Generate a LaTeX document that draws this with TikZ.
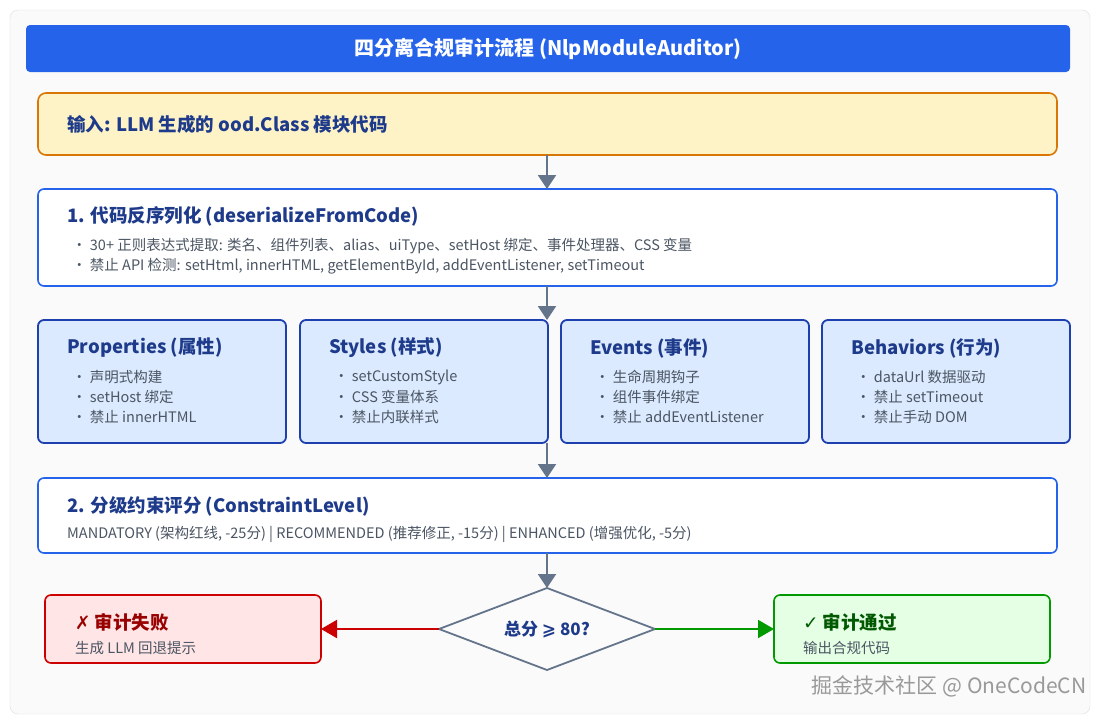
\documentclass[tikz,border=0pt]{standalone}
\usepackage{fontspec}
\setmainfont{Noto Sans CJK SC}
\newfontfamily\sym{DejaVu Sans}
\usetikzlibrary{shapes.geometric,arrows.meta}
\definecolor{tblue}{HTML}{2563EB}
\definecolor{dblue}{HTML}{1E3A8A}
\definecolor{bblue}{HTML}{1E40AF}
\definecolor{lblue}{HTML}{DBEAFE}
\definecolor{gtxt}{HTML}{4B5563}
\definecolor{agray}{HTML}{64748B}
\definecolor{ofill}{HTML}{FEF3C7}
\definecolor{obord}{HTML}{D97706}
\begin{document}
\begin{tikzpicture}[x=1pt,y=-1pt,
  box/.style={draw=tblue,line width=1.6pt,rounded corners=6pt,fill=white},
  sub/.style={draw=bblue,line width=1.8pt,rounded corners=6pt,fill=lblue},
  ttl/.style={anchor=west,font=\bfseries\fontsize{18.5}{20}\selectfont,text=dblue,inner sep=0},
  bul/.style={anchor=west,font=\fontsize{14.5}{16}\selectfont,text=gtxt,inner sep=0,align=left},
  arr/.style={-{Triangle[length=14pt,width=18pt]},agray,line width=2pt}]
\useasboundingbox (0,0) rectangle (1100,720);
\fill[white] (0,0) rectangle (1100,720);
\draw[draw=gray!25,fill=gray!4,rounded corners=8pt] (10,10) rectangle (1090,714);
\node[fill=tblue,rounded corners=4pt,minimum width=1044pt,minimum height=47pt,text=white,font=\bfseries\fontsize{20}{22}\selectfont] (title) at (548,48.5) {四分离合规审计流程 (NlpModuleAuditor)};
\draw[draw=obord,fill=ofill,line width=1.6pt,rounded corners=8pt] (38,93) rectangle (1057,155);
\node[ttl] (in) at (67,124) {输入: LLM 生成的 ood.Class 模块代码};
\coordinate (inb) at (547,155);
\draw[box] (38,189) rectangle (1057,286);
\coordinate (b1t) at (547,189); \coordinate (b1b) at (547,286);
\node[ttl] (t1) at (67,216) {1. 代码反序列化 (deserializeFromCode)};
\node[bul] (l1) at (72,246) {· 30+ 正则表达式提取: 类名、组件列表、alias、uiType、setHost 绑定、事件处理器、CSS 变量};
\node[bul] (l2) at (72,266) {· 禁止 API 检测: setHtml, innerHTML, getElementById, addEventListener, setTimeout};
\foreach \x/\n/\a/\b/\c in {38/Properties (属性)/声明式构建/setHost 绑定/禁止 innerHTML,
  300/Styles (样式)/setCustomStyle/CSS 变量体系/禁止内联样式,
  561/Events (事件)/生命周期钩子/组件事件绑定/禁止 addEventListener,
  822/Behaviors (行为)/dataUrl 数据驱动/禁止 setTimeout/禁止手动 DOM}{
  \draw[sub] (\x,320) rectangle (\x+248,443);
  \node[ttl] at (\x+29,348) {\n};
  \node[bul] at (\x+34,377) {· \a};
  \node[bul] at (\x+34,397) {· \b};
  \node[bul] at (\x+34,417) {· \c};
}
\coordinate (sb) at (547,443);
\draw[box] (38,478) rectangle (1057,553);
\coordinate (b2t) at (547,478); \coordinate (b2b) at (547,553);
\node[ttl] (t2) at (67,506) {2. 分级约束评分 (ConstraintLevel)};
\node[bul] (l3) at (67,534) {MANDATORY (架构红线, -25分) | RECOMMENDED (推荐修正, -15分) | ENHANCED (增强优化, -5分)};
\coordinate (dn) at (547,588); \coordinate (dw) at (439,629);
\coordinate (de) at (655,629); \coordinate (ds) at (547,670);
\draw[draw=agray,fill=gray!3,line width=1.8pt,line join=round] (dn) -- (de) -- (ds) -- (dw) -- cycle;
\node[font=\bfseries\fontsize{17}{19}\selectfont,text=dblue] (d) at (547,629) {总分 {\sym ⩾} 80?};
\draw[draw=red!80!black,fill=red!10,line width=1.6pt,rounded corners=6pt] (45,595) rectangle (321,663);
\coordinate (fr) at (321,629);
\node[ttl,text=red!60!black] (f1) at (75,622) {{\sym ✗} 审计失败};
\node[bul] (f2) at (75,648) {生成 LLM 回退提示};
\draw[draw=green!60!black,fill=green!10,line width=1.6pt,rounded corners=6pt] (774,595) rectangle (1050,663);
\coordinate (pl) at (774,629);
\node[ttl,text=green!35!black] (p1) at (803,622) {{\sym ✓} 审计通过};
\node[bul] (p2) at (803,648) {输出合规代码};
\draw[arr] (inb) -- (b1t);
\draw[arr] (b1b) -- (547,320);
\draw[arr] (sb) -- (b2t);
\draw[arr] (b2b) -- (dn);
\draw[-{Triangle[length=16pt,width=18pt]},red!80!black,line width=2pt] (dw) -- (fr);
\draw[-{Triangle[length=16pt,width=18pt]},green!60!black,line width=2pt] (de) -- (pl);
\node[anchor=east,font=\fontsize{21}{23}\selectfont,text=gray!80] (wm) at (1090,686) {掘金技术社区 @ OneCodeCN};
\end{tikzpicture}
\end{document}
